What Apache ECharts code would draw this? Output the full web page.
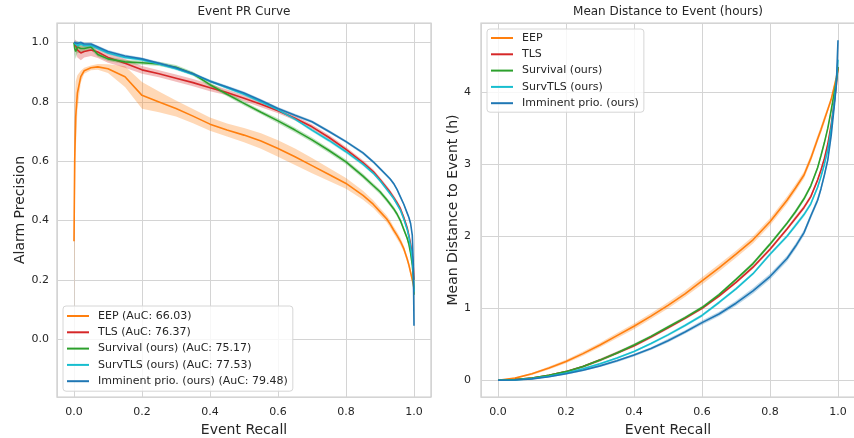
<!DOCTYPE html>
<html><head><meta charset="utf-8">
<script src="https://cdn.jsdelivr.net/npm/echarts@6/dist/echarts.min.js"></script>
<style>html,body{margin:0;padding:0;background:#fff}#c{width:854px;height:438px}</style>
</head><body><div id="c"></div>
<script>
// ---------- Left panel: Event PR curve ----------
const recallPR = [0, 0.002, 0.005, 0.01, 0.02, 0.03, 0.05, 0.07, 0.1, 0.15, 0.2, 0.25, 0.3, 0.35, 0.4, 0.45, 0.5, 0.55, 0.6, 0.65, 0.7, 0.75, 0.8, 0.85, 0.88, 0.9, 0.92, 0.93, 0.94, 0.95, 0.96, 0.97, 0.98, 0.985, 0.99, 0.995, 0.998, 1.0];
const prEEP      = [0.33, 0.6, 0.75, 0.83, 0.885, 0.905, 0.915, 0.918, 0.912, 0.885, 0.822, 0.80, 0.778, 0.752, 0.725, 0.705, 0.688, 0.668, 0.643, 0.615, 0.585, 0.555, 0.525, 0.485, 0.455, 0.43, 0.405, 0.388, 0.368, 0.35, 0.33, 0.305, 0.27, 0.25, 0.225, 0.2, 0.185, 0.17];
const prTLS      = [1.0, 0.995, 0.99, 0.975, 0.965, 0.97, 0.975, 0.968, 0.95, 0.93, 0.908, 0.895, 0.88, 0.865, 0.848, 0.832, 0.812, 0.792, 0.77, 0.745, 0.716, 0.68, 0.64, 0.595, 0.565, 0.538, 0.51, 0.495, 0.478, 0.46, 0.44, 0.41, 0.375, 0.35, 0.32, 0.28, 0.24, 0.2];
const prSurv     = [1.0, 0.98, 0.97, 0.985, 0.98, 0.98, 0.985, 0.96, 0.945, 0.935, 0.932, 0.928, 0.917, 0.895, 0.858, 0.826, 0.795, 0.765, 0.736, 0.705, 0.672, 0.636, 0.598, 0.55, 0.518, 0.497, 0.47, 0.455, 0.44, 0.422, 0.4, 0.37, 0.34, 0.32, 0.29, 0.25, 0.21, 0.15];
const prSurvTLS  = [1.0, 0.995, 0.995, 0.99, 0.995, 0.99, 0.99, 0.98, 0.965, 0.95, 0.942, 0.928, 0.912, 0.893, 0.87, 0.848, 0.826, 0.80, 0.773, 0.742, 0.705, 0.67, 0.632, 0.59, 0.56, 0.535, 0.505, 0.49, 0.475, 0.455, 0.435, 0.405, 0.37, 0.345, 0.31, 0.27, 0.22, 0.16];
const prImminent = [1.0, 1.0, 1.0, 0.998, 1.0, 0.995, 0.995, 0.985, 0.97, 0.955, 0.945, 0.93, 0.915, 0.895, 0.87, 0.85, 0.83, 0.805, 0.778, 0.755, 0.733, 0.70, 0.666, 0.628, 0.598, 0.575, 0.552, 0.54, 0.525, 0.505, 0.48, 0.455, 0.425, 0.41, 0.39, 0.35, 0.25, 0.045];
// confidence band half-widths
const ciEEP      = [0.3, 0.2, 0.12, 0.06, 0.02, 0.01, 0.008, 0.01, 0.015, 0.035, 0.045, 0.035, 0.027, 0.024, 0.022, 0.022, 0.024, 0.026, 0.028, 0.028, 0.026, 0.022, 0.018, 0.015, 0.013, 0.012, 0.012, 0.012, 0.012, 0.012, 0.012, 0.01, 0.01, 0.01, 0.01, 0.01, 0.008, 0.005];
const ciTLS      = [0.0, 0.01, 0.02, 0.025, 0.025, 0.02, 0.02, 0.02, 0.018, 0.015, 0.013, 0.012, 0.012, 0.012, 0.012, 0.01, 0.01, 0.01, 0.008, 0.008, 0.008, 0.008, 0.008, 0.008, 0.008, 0.008, 0.008, 0.008, 0.008, 0.008, 0.008, 0.008, 0.008, 0.008, 0.008, 0.008, 0.006, 0.005];
const ciSurv     = [0.0, 0.02, 0.025, 0.02, 0.015, 0.012, 0.01, 0.008, 0.007, 0.007, 0.007, 0.007, 0.007, 0.007, 0.007, 0.007, 0.007, 0.007, 0.008, 0.008, 0.008, 0.008, 0.008, 0.008, 0.008, 0.008, 0.008, 0.008, 0.008, 0.008, 0.008, 0.008, 0.008, 0.008, 0.008, 0.008, 0.006, 0.005];
const ciSurvTLS  = [0.0, 0.008, 0.008, 0.008, 0.006, 0.006, 0.005, 0.005, 0.005, 0.005, 0.005, 0.005, 0.005, 0.005, 0.005, 0.005, 0.005, 0.005, 0.005, 0.005, 0.006, 0.006, 0.006, 0.006, 0.006, 0.006, 0.006, 0.006, 0.006, 0.006, 0.006, 0.006, 0.006, 0.006, 0.006, 0.006, 0.005, 0.004];
const ciImminent = [0.0, 0.006, 0.006, 0.006, 0.005, 0.005, 0.005, 0.005, 0.005, 0.005, 0.005, 0.005, 0.005, 0.005, 0.005, 0.005, 0.005, 0.005, 0.005, 0.005, 0.005, 0.005, 0.005, 0.005, 0.005, 0.005, 0.005, 0.005, 0.005, 0.005, 0.005, 0.005, 0.005, 0.005, 0.005, 0.005, 0.005, 0.004];

// ---------- Right panel: mean distance to event ----------
const recallMD = [0, 0.05, 0.1, 0.15, 0.2, 0.25, 0.3, 0.35, 0.4, 0.45, 0.5, 0.55, 0.6, 0.65, 0.7, 0.75, 0.8, 0.85, 0.875, 0.9, 0.92, 0.94, 0.95, 0.96, 0.97, 0.98, 0.99, 0.995, 1.0];
const mdEEP      = [0, 0.03, 0.09, 0.17, 0.26, 0.37, 0.49, 0.62, 0.75, 0.89, 1.04, 1.2, 1.38, 1.56, 1.75, 1.95, 2.2, 2.5, 2.67, 2.85, 3.08, 3.35, 3.48, 3.62, 3.76, 3.9, 4.1, 4.2, 4.33];
const mdTLS      = [0, 0.01, 0.03, 0.07, 0.12, 0.19, 0.28, 0.38, 0.48, 0.6, 0.73, 0.86, 1.0, 1.17, 1.36, 1.57, 1.82, 2.1, 2.25, 2.4, 2.55, 2.78, 2.92, 3.08, 3.28, 3.55, 3.9, 4.1, 4.35];
const mdSurv     = [0, 0.01, 0.03, 0.07, 0.12, 0.19, 0.28, 0.38, 0.49, 0.61, 0.74, 0.87, 1.01, 1.19, 1.4, 1.62, 1.89, 2.18, 2.34, 2.52, 2.7, 2.95, 3.12, 3.3, 3.5, 3.75, 4.02, 4.15, 4.35];
const mdSurvTLS  = [0, 0.005, 0.025, 0.055, 0.1, 0.16, 0.23, 0.31, 0.40, 0.51, 0.63, 0.76, 0.9, 1.08, 1.27, 1.48, 1.75, 2.0, 2.15, 2.3, 2.45, 2.68, 2.83, 3.0, 3.2, 3.5, 3.9, 4.15, 4.45];
const mdImminent = [0, 0.005, 0.02, 0.05, 0.09, 0.14, 0.2, 0.27, 0.35, 0.44, 0.55, 0.67, 0.8, 0.92, 1.07, 1.24, 1.44, 1.69, 1.86, 2.05, 2.28, 2.5, 2.66, 2.85, 3.06, 3.4, 3.85, 4.1, 4.72];
const ciMdEEP      = [0, 0.01, 0.015, 0.02, 0.025, 0.03, 0.03, 0.035, 0.04, 0.04, 0.045, 0.045, 0.05, 0.05, 0.05, 0.05, 0.05, 0.05, 0.05, 0.05, 0.05, 0.05, 0.05, 0.05, 0.04, 0.04, 0.03, 0.03, 0.02];
const ciMdTLS      = [0, 0.005, 0.01, 0.01, 0.012, 0.015, 0.02, 0.02, 0.02, 0.02, 0.02, 0.02, 0.02, 0.02, 0.02, 0.025, 0.025, 0.025, 0.03, 0.03, 0.03, 0.03, 0.03, 0.03, 0.03, 0.03, 0.03, 0.03, 0.02];
const ciMdSurv     = [0, 0.005, 0.01, 0.01, 0.012, 0.015, 0.02, 0.02, 0.02, 0.02, 0.02, 0.02, 0.02, 0.02, 0.02, 0.025, 0.025, 0.025, 0.03, 0.03, 0.03, 0.03, 0.03, 0.03, 0.03, 0.03, 0.03, 0.03, 0.02];
const ciMdSurvTLS  = [0, 0.005, 0.01, 0.01, 0.012, 0.015, 0.015, 0.015, 0.015, 0.015, 0.02, 0.02, 0.02, 0.02, 0.02, 0.02, 0.025, 0.025, 0.03, 0.03, 0.03, 0.03, 0.03, 0.03, 0.03, 0.03, 0.03, 0.03, 0.02];
const ciMdImminent = [0, 0.005, 0.01, 0.01, 0.012, 0.015, 0.015, 0.02, 0.02, 0.02, 0.025, 0.025, 0.03, 0.03, 0.035, 0.04, 0.04, 0.04, 0.04, 0.04, 0.04, 0.04, 0.04, 0.04, 0.04, 0.04, 0.03, 0.03, 0.02];

const modelNames = ['EEP', 'TLS', 'Survival (ours)', 'SurvTLS (ours)', 'Imminent prio. (ours)'];
const aucValues = ['66.03', '76.37', '75.17', '77.53', '79.48'];
const colors = ['#ff7f0e', '#d62728', '#2ca02c', '#17becf', '#1f77b4'];
const bandColors = ['rgba(255,127,14,0.3)', 'rgba(214,39,40,0.3)', 'rgba(44,160,44,0.3)', 'rgba(23,190,207,0.3)', 'rgba(31,119,180,0.3)'];
const prCurves = [prEEP, prTLS, prSurv, prSurvTLS, prImminent];
const prBands = [ciEEP, ciTLS, ciSurv, ciSurvTLS, ciImminent];
const mdCurves = [mdEEP, mdTLS, mdSurv, mdSurvTLS, mdImminent];
const mdBands = [ciMdEEP, ciMdTLS, ciMdSurv, ciMdSurvTLS, ciMdImminent];

const FONT = 'DejaVu Sans';
const TXT = '#262626';

function pairs(xs, ys) { return xs.map((x, i) => [x, ys[i]]); }
function band(xs, ys, hw, color, gi) {
  return {
    type: 'custom', xAxisIndex: gi, yAxisIndex: gi, silent: true, z: 2,
    data: [[xs[0], ys[0]]],
    renderItem: (params, api) => {
      const up = xs.map((x, i) => api.coord([x, ys[i] + hw[i]]));
      const lo = xs.map((x, i) => api.coord([x, ys[i] - hw[i]])).reverse();
      return { type: 'polygon', shape: { points: up.concat(lo) }, style: { fill: color } };
    }
  };
}
function line(name, xs, ys, color, gi) {
  return {
    type: 'line', name: name, xAxisIndex: gi, yAxisIndex: gi, data: pairs(xs, ys),
    showSymbol: false, symbol: 'none', lineStyle: { color: color, width: 1.6 },
    itemStyle: { color: color }, z: 3
  };
}
function isMult(v, step) { return Math.abs(v / step - Math.round(v / step)) < 1e-6; }

const leftNames = modelNames.map((n, i) => n + ' (AuC: ' + aucValues[i] + ')');
const rightNames = modelNames.slice();

const series = [];
for (let i = 0; i < 5; i++) {
  series.push(band(recallPR, prCurves[i], prBands[i], bandColors[i], 0));
  series.push(line(leftNames[i], recallPR, prCurves[i], colors[i], 0));
}
for (let i = 0; i < 5; i++) {
  series.push(band(recallMD, mdCurves[i], mdBands[i], bandColors[i], 1));
  series.push(line(rightNames[i], recallMD, mdCurves[i], colors[i], 1));
}

function xAxis(gi) {
  return {
    type: 'value', gridIndex: gi, min: -0.05, max: 1.05, splitNumber: 5,
    name: 'Event Recall', nameLocation: 'middle', nameGap: 24,
    nameTextStyle: { fontSize: 14, color: TXT, fontFamily: FONT },
    axisLine: { show: false }, axisTick: { show: false },
    axisLabel: { fontSize: 11, color: TXT, fontFamily: FONT, margin: 10,
      formatter: v => (isMult(v, 0.2) && v > -0.01 && v < 1.01) ? v.toFixed(1) : '' },
    splitLine: { show: true, lineStyle: { color: '#d4d4d4', width: 1 } }
  };
}

const legendCommon = {
  orient: 'vertical', icon: 'rect', itemWidth: 22, itemHeight: 2, itemGap: 2.3,
  backgroundColor: 'rgba(255,255,255,0.8)', borderColor: '#d6d6d6', borderWidth: 1, borderRadius: 3,
  textStyle: { fontSize: 11, color: TXT, fontFamily: FONT, padding: [0, 0, 0, 4], lineHeight: 14, height: 14 },
  selectedMode: false
};

const option = {
  animation: false,
  backgroundColor: '#ffffff',
  textStyle: { fontFamily: FONT },
  title: [
    { text: 'Event PR Curve', left: 244, top: 6, textAlign: 'center', padding: 0,
      textStyle: { fontSize: 12, fontWeight: 'normal', color: TXT, fontFamily: FONT } },
    { text: 'Mean Distance to Event (hours)', left: 668, top: 6, textAlign: 'center', padding: 0,
      textStyle: { fontSize: 12, fontWeight: 'normal', color: TXT, fontFamily: FONT } }
  ],
  grid: [
    { left: 57, top: 23, width: 374, height: 374, show: true, borderColor: '#cccccc', borderWidth: 1.25, containLabel: false, outerBoundsMode: 'none' },
    { left: 481, top: 23, width: 374, height: 374, show: true, borderColor: '#cccccc', borderWidth: 1.25, containLabel: false, outerBoundsMode: 'none' }
  ],
  xAxis: [xAxis(0), xAxis(1)],
  yAxis: [
    { type: 'value', gridIndex: 0, min: -0.195, max: 1.066, splitNumber: 6,
      name: 'Alarm Precision', nameLocation: 'middle', nameGap: 30,
      nameTextStyle: { fontSize: 14, color: TXT, fontFamily: FONT },
      axisLine: { show: false }, axisTick: { show: false },
      axisLabel: { fontSize: 11, color: TXT, fontFamily: FONT, margin: 8,
        formatter: v => (isMult(v, 0.2) && v > -0.01 && v < 1.01) ? v.toFixed(1) : '' },
      splitLine: { show: true, lineStyle: { color: '#d4d4d4', width: 1 } } },
    { type: 'value', gridIndex: 1, min: -0.232, max: 4.96, splitNumber: 5,
      name: 'Mean Distance to Event (h)', nameLocation: 'middle', nameGap: 20,
      nameTextStyle: { fontSize: 14, color: TXT, fontFamily: FONT },
      axisLine: { show: false }, axisTick: { show: false },
      axisLabel: { fontSize: 11, color: TXT, fontFamily: FONT, margin: 10,
        formatter: v => (isMult(v, 1) && v > -0.01 && v < 4.01) ? String(Math.round(v)) : '' },
      splitLine: { show: true, lineStyle: { color: '#d4d4d4', width: 1 } } }
  ],
  legend: [
    Object.assign({}, legendCommon, { data: leftNames, left: 63, top: 306, padding: [3, 5, 3, 4] }),
    Object.assign({}, legendCommon, { data: rightNames, left: 487, top: 29, padding: [2, 5, 2, 4] })
  ],
  series: series
};

const chart = echarts.init(document.getElementById('c'), null, { renderer: 'canvas' });
chart.setOption(option);
</script>
</body></html>
